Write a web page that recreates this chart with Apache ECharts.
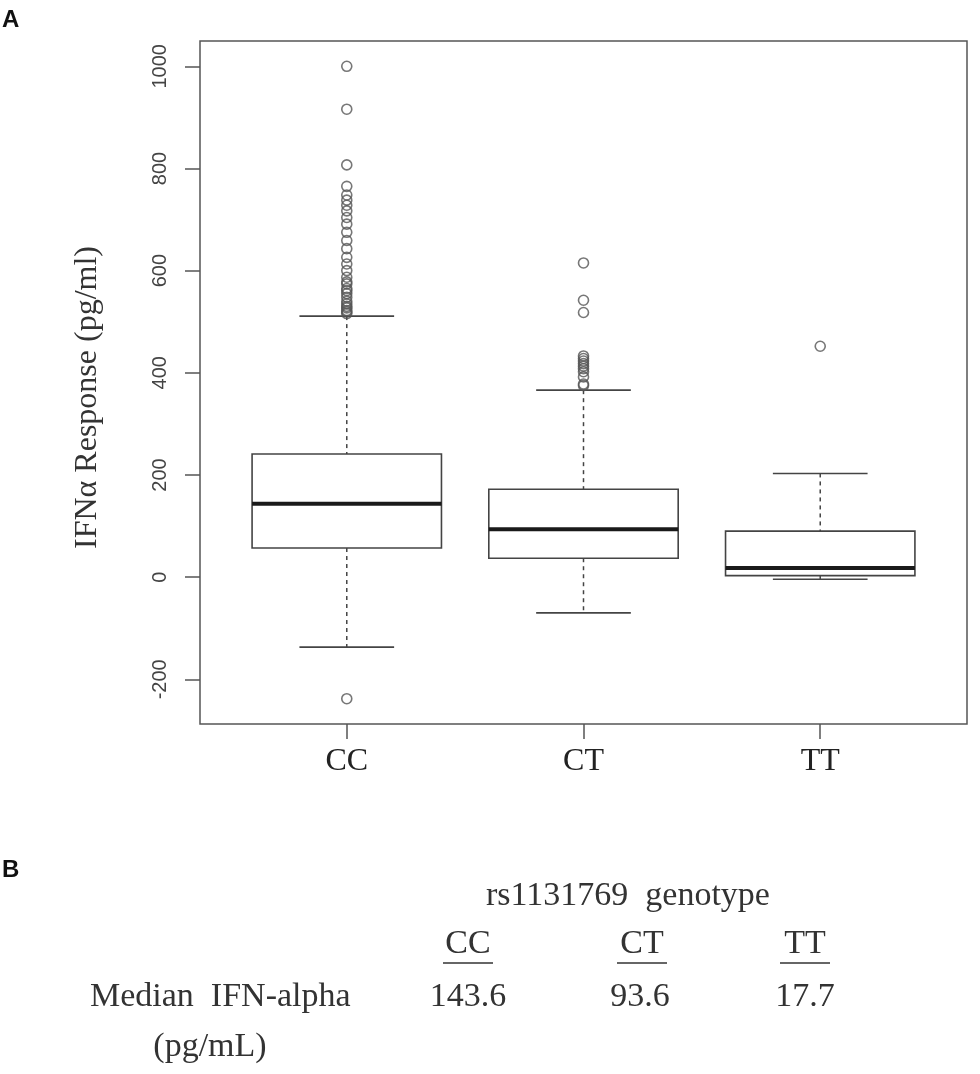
<!DOCTYPE html>
<html>
<head>
<meta charset="utf-8">
<script src="https://cdn.jsdelivr.net/npm/echarts@6/dist/echarts.min.js"></script>
<style>
  html, body { margin: 0; padding: 0; background: #fff; }
  #chart { width: 980px; height: 1074px; }
</style>
</head>
<body>
<div id="chart"></div>
<script>
// genotypes and box statistics (pg/ml)
const genotypes = ['CC', 'CT', 'TT'];
const whiskerLow = [-137, -70, -4];
const lowerQuartile = [57, 37, 3];
const medians = [143.6, 93.6, 17.7];
const upperQuartile = [241, 172, 90];
const whiskerHigh = [511, 366, 203];

// outliers per genotype
const outliersCC = [1000, 916, 807, 765, 748, 738, 728, 717, 704, 691, 675, 659, 643, 626, 613,
    600, 587, 578, 574, 565, 561, 555, 548, 540, 535, 530, 527, 522, 519, 516, -238];
const outliersCT = [615, 542, 518, 433, 428, 423, 418, 413, 408, 402, 392, 378, 375];
const outliersTT = [452];

const yTicks = [-200, 0, 200, 400, 600, 800, 1000];
const medianLabels = ['143.6', '93.6', '17.7'];

let boxData = genotypes.map((g, i) => [i + 1, whiskerLow[i], lowerQuartile[i], medians[i], upperQuartile[i], whiskerHigh[i]]);
let outlierData = [];
[outliersCC, outliersCT, outliersTT].forEach((list, i) => {
    list.forEach(v => outlierData.push([i + 1, v]));
});

function renderBox(params, api) {
    let x = api.value(0);
    let lo = api.coord([x, api.value(1)]);
    let q1 = api.coord([x, api.value(2)]);
    let med = api.coord([x, api.value(3)]);
    let q3 = api.coord([x, api.value(4)]);
    let hi = api.coord([x, api.value(5)]);
    let half = api.size([0.4, 0])[0];
    let cap = half / 2;
    let dashed = { stroke: '#444', lineWidth: 1.5, lineDash: [4, 4] };
    let solid = { stroke: '#444', lineWidth: 1.6 };
    return {
        type: 'group',
        children: [
            { type: 'line', shape: { x1: hi[0], y1: hi[1], x2: q3[0], y2: q3[1] }, style: dashed },
            { type: 'line', shape: { x1: q1[0], y1: q1[1], x2: lo[0], y2: lo[1] }, style: dashed },
            { type: 'line', shape: { x1: hi[0] - cap, y1: hi[1], x2: hi[0] + cap, y2: hi[1] }, style: solid },
            { type: 'line', shape: { x1: lo[0] - cap, y1: lo[1], x2: lo[0] + cap, y2: lo[1] }, style: solid },
            { type: 'rect', shape: { x: q3[0] - half, y: q3[1], width: half * 2, height: q1[1] - q3[1] },
              style: { fill: '#fff', stroke: '#444', lineWidth: 1.6 } },
            { type: 'line', shape: { x1: med[0] - half, y1: med[1], x2: med[0] + half, y2: med[1] },
              style: { stroke: '#1a1a1a', lineWidth: 4 } }
        ]
    };
}

const serif = '"Liberation Serif", "Times New Roman", serif';
const tableText = { fontFamily: serif, fontSize: 34, fill: '#333' };

let option = {
    backgroundColor: '#fff',
    animation: false,
    grid: {
        left: 200,
        right: 13,
        top: 41,
        bottom: 350,
        show: true,
        borderColor: '#555',
        borderWidth: 1.5
    },
    xAxis: {
        type: 'value',
        min: 0.38,
        max: 3.62,
        splitLine: { show: false },
        axisLine: { show: false, onZero: false },
        axisTick: {
            show: true,
            customValues: [1, 2, 3],
            length: 15,
            lineStyle: { color: '#555', width: 1.5 }
        },
        axisLabel: {
            customValues: [1, 2, 3],
            formatter: v => genotypes[Math.round(v) - 1],
            margin: 22,
            fontFamily: serif,
            fontSize: 32,
            color: '#222'
        }
    },
    yAxis: {
        type: 'value',
        min: -287.5,
        max: 1049.5,
        name: 'IFNα Response (pg/ml)',
        nameLocation: 'middle',
        nameGap: 96,
        nameTextStyle: {
            fontFamily: serif,
            fontSize: 32,
            color: '#333',
            padding: [0, 30, 0, 0]
        },
        splitLine: { show: false },
        axisLine: { show: false, onZero: false },
        axisTick: {
            show: true,
            customValues: yTicks,
            length: 15,
            lineStyle: { color: '#555', width: 1.5 }
        },
        axisLabel: {
            customValues: yTicks,
            formatter: v => String(v),
            rotate: 90,
            margin: 30,
            fontFamily: '"Liberation Sans", Arial, sans-serif',
            fontSize: 20,
            color: '#444'
        }
    },
    series: [{
        name: 'box',
        type: 'custom',
        renderItem: renderBox,
        data: boxData,
        encode: { x: 0, y: [1, 2, 3, 4, 5] },
        z: 2
    }, {
        name: 'outliers',
        type: 'scatter',
        data: outlierData,
        symbol: 'circle',
        symbolSize: 10,
        itemStyle: { color: 'rgba(0,0,0,0)', borderColor: '#555', borderWidth: 1.6 },
        z: 3
    }],
    graphic: [
        { type: 'text', left: 2, top: 8, style: { text: 'A', font: 'bold 24px "Liberation Sans", Arial, sans-serif', fill: '#111' } },
        { type: 'text', left: 2, top: 858, style: { text: 'B', font: 'bold 24px "Liberation Sans", Arial, sans-serif', fill: '#111' } },
        { type: 'text', x: 628, y: 896, style: Object.assign({ text: 'rs1131769  genotype', textAlign: 'center', textVerticalAlign: 'middle' }, tableText) },
        { type: 'text', x: 90, y: 997, style: Object.assign({ text: 'Median  IFN-alpha', textAlign: 'left', textVerticalAlign: 'middle' }, tableText) },
        { type: 'text', x: 210, y: 1047, style: Object.assign({ text: '(pg/mL)', textAlign: 'center', textVerticalAlign: 'middle' }, tableText) }
    ]
};

// column headers (underlined) and median values
const colX = [468, 642, 805];
genotypes.forEach((g, i) => {
    option.graphic.push({ type: 'text', x: colX[i], y: 944, style: Object.assign({ text: g, textAlign: 'center', textVerticalAlign: 'middle' }, tableText) });
    option.graphic.push({ type: 'line', shape: { x1: colX[i] - 25, y1: 963, x2: colX[i] + 25, y2: 963 }, style: { stroke: '#333', lineWidth: 1.5 } });
    option.graphic.push({ type: 'text', x: colX[i] + (i === 1 ? -2 : 0), y: 997, style: Object.assign({ text: medianLabels[i], textAlign: 'center', textVerticalAlign: 'middle' }, tableText) });
});

let myChart = echarts.init(document.getElementById('chart'));
myChart.setOption(option);
</script>
</body>
</html>
